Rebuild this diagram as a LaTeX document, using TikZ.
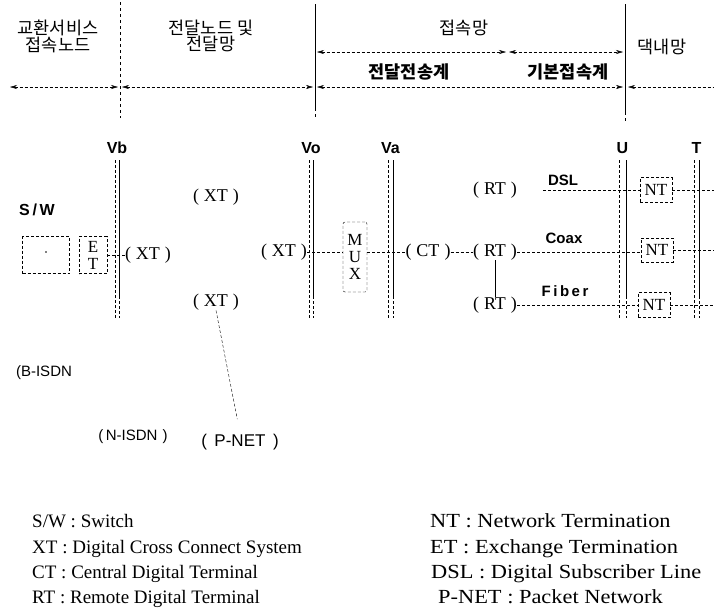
\documentclass[tikz,border=0pt]{standalone}
\usepackage{fontspec}
\setmainfont{Liberation Serif}
\newfontfamily\korfont{Noto Sans CJK KR}
\newfontfamily\labfont{Liberation Sans}
\newfontfamily\widefont{Liberation Serif}[FakeStretch=1.12]
\usetikzlibrary{arrows.meta,positioning,calc}

\begin{document}
\begin{tikzpicture}[x=1pt,y=-1pt,
  kor/.style={font=\korfont\fontsize{17.5}{15}\selectfont,align=center,inner sep=0pt},
  reflab/.style={font=\labfont\bfseries\fontsize{16}{18}\selectfont,inner sep=0pt},
  linklab/.style={font=\labfont\bfseries\fontsize{15}{17}\selectfont,inner sep=0pt},
  netlab/.style={font=\labfont\fontsize{15}{17}\selectfont,inner sep=1pt},
  term/.style={font=\fontsize{18}{20}\selectfont,inner sep=0pt},
  box/.style={draw,densely dashed,thin,font=\fontsize{17}{17}\selectfont,align=center,inner sep=0pt},
  conn/.style={densely dashed,thin},
  span/.style={densely dashed,thin,{Stealth[length=7pt,width=4pt]}-{Stealth[length=7pt,width=4pt]}},
  legend/.style={font=\fontsize{19}{21}\selectfont,anchor=base west,inner sep=0pt},
  legendr/.style={legend,font=\widefont\fontsize{20}{22}\selectfont}
]
\useasboundingbox (0,0) rectangle (714,614);
\clip (0,0) rectangle (714,614);

% header
\draw[dashed,thin] (120,2) -- (120,118);
\draw[semithick] (315,4) -- (315,108);
\draw[dashed,thin] (315,108) -- (315,120);
\draw[semithick] (625,4) -- (625,112);
\draw[dashed,thin] (625,112) -- (625,122);

\node[kor] (hsvc) at (58,36) {교환서비스\\접속노드};
\node[kor] (htrans) at (211,36) {전달노드 및\\전달망};
\node[kor] (hacc) at (464,28) {접속망};
\node[kor] (hhome) at (662,47) {댁내망};
\node[kor] (hdtx) at (409,72) {\bfseries 전달전송계};
\node[kor] (hbase) at (568,72) {\bfseries 기본접속계};

\draw[span] (317,52) -- (506,52);
\draw[span] (509,52) -- (623,52);
\draw[span] (10,87) -- (118,87);
\draw[span] (122,87) -- (313,87);
\draw[span] (317,87) -- (623,87);
\draw[span] (628,87) -- (730,87);

% reference points
\foreach \xa/\xb/\lab in {115/119/Vb, 309/313/Vo, 388/393/Va, 619/626/U, 694/699/T} {
  \draw[thin,densely dashed] (\xa,160) -- (\xa,318);
  \draw[semithick] (\xb,160) -- (\xb,296);
  \draw[thin,densely dashed] (\xb,296) -- (\xb,318);
  \node[reflab] (ref\lab) at ({(\xa+\xb)/2},148) {\lab};
}

% exchange side
\node[box,minimum width=47pt,minimum height=37pt] (sw) at (46,255) {};
\fill (46,252) circle (0.8pt);
\node[reflab] (swlab) at (37,210) {S\,/\,W};
\node[box,minimum width=28pt,minimum height=37pt] (et) at (93,255) {E\\T};
\node[term] (xta) at (148,255) {(\;XT\;)};
\node[term] (xtb) at (216,197) {(\;XT\;)};
\node[term] (xtc) at (216,302) {(\;XT\;)};
\node[term] (xtd) at (284,252) {(\;XT\;)};
\node[box,rounded corners=2pt,minimum width=24pt,minimum height=70pt] (mux) at (355,257) {M\\U\\X};
\node[term] (ct) at (428,252) {(\;CT\;)};

\node[netlab] (bisdn) at (44,373) {(B-ISDN};
\node[netlab] (nisdn) at (133,437) {(\,N-ISDN\,\,)};
\node[netlab,font=\labfont\fontsize{17}{19}\selectfont] (pnet) at (240,442) {(\;\,P-NET\;\,)};

\draw[conn] (et) -- (xta);
\draw[conn] (xtd) -- (xtd -| mux.west);
\draw[conn] (mux.east |- ct) -- (ct);
\draw[conn,shorten >=14pt] (xtc.south) -- (pnet.north);

% access side
\node[term] (rta) at (495,190) {(\;RT\;)};
\node[term] (rtb) at (495,252) {(\;RT\;)};
\node[term] (rtc) at (495,305) {(\;RT\;)};
\node[box,minimum width=32pt,minimum height=25pt] (nta) at (656,190) {NT};
\node[box,minimum width=32pt,minimum height=24pt] (ntb) at (657,250) {NT};
\node[box,minimum width=32pt,minimum height=25pt] (ntc) at (654,305) {NT};

\node[linklab] (dsl) at (563,180) {DSL};
\node[linklab] (coax) at (564,238) {Coax};
\node[linklab] (fiber) at (565,291) {F\,i\,b\,e\,r};

\coordinate (dslin) at (543,190);
\coordinate (enda) at (714,190);
\coordinate (endb) at (714,250);
\coordinate (endc) at (714,305);

\draw[conn] (ct) -- (rtb);
\draw (rtb) -- (rtc);
\draw[conn] (dslin) -- (nta);
\draw[conn] (rtb.east) -- (rtb.east -| ntb.west);
\draw[conn] (rtc) -- (ntc);
\draw[conn] (nta) -- (enda);
\draw[conn] (ntb) -- (endb);
\draw[conn] (ntc) -- (endc);

% legend
\node[legend] (lsw) at (32,527) {S/W : Switch};
\node[legend] (lxt) at (32,553) {XT : Digital Cross Connect System};
\node[legend] (lct) at (32,578) {CT : Central Digital Terminal};
\node[legend] (lrt) at (32,603) {RT : Remote Digital Terminal};
\node[legendr] (lnt) at (430,527) {NT : Network Termination};
\node[legendr] (let) at (430,553) {ET : Exchange Termination};
\node[legendr] (ldsl) at (431,578) {DSL : Digital Subscriber Line};
\node[legendr] (lpnet) at (438,603) {P-NET : Packet Network};

\end{tikzpicture}
\end{document}
